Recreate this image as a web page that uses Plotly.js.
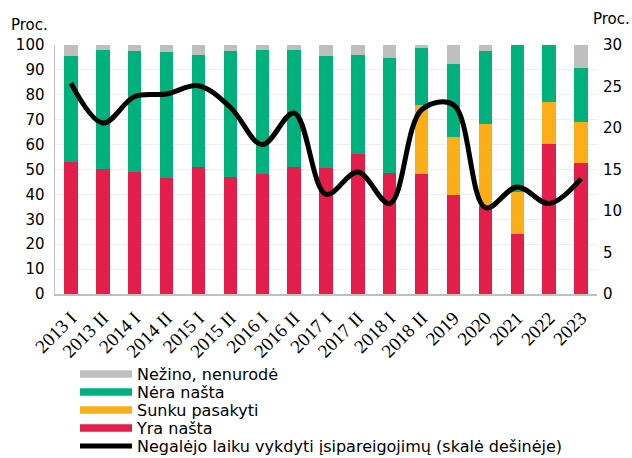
<!DOCTYPE html>
<html><head><meta charset="utf-8">
<script src="https://cdn.plot.ly/plotly-3.0.1.min.js"></script>
<style>html,body{margin:0;padding:0;background:#fff}#c{width:632px;height:458px}</style>
</head><body><div id="c"></div>
<script>
const categories = ["2013 I","2013 II","2014 I","2014 II","2015 I","2015 II","2016 I","2016 II","2017 I","2017 II","2018 I","2018 II","2019","2020","2021","2022","2023"];
const yraNasta   = [53.2,50.4,48.9,46.4,51.0,47.0,48.3,51.1,50.5,56.1,48.4,48.2,39.9,35.3,24.2,60.3,52.8];
const sunku      = [0,0,0,0,0,0,0,0,0,0,0,27.8,23.1,33.0,16.9,17.0,16.3];
const neraNasta  = [42.4,47.6,48.7,50.8,45.0,50.7,49.8,46.9,45.2,39.9,46.5,22.9,29.4,29.3,58.9,22.7,21.8];
const nezino     = [4.4,2.0,2.4,2.8,4.0,2.3,1.9,2.0,4.3,4.0,5.1,1.1,7.6,2.4,0,0,9.1];
const negalejo   = [25.4,20.6,23.8,24.1,25.1,22.5,18.0,21.8,12.0,14.7,10.9,22.2,22.8,10.4,12.9,10.9,13.9];

const names = ["Yra našta","Sunku pasakyti","Nėra našta","Nežino, nenurodė","Negalėjo laiku vykdyti įsipareigojimų (skalė dešinėje)"];
const colors = ["#E31E4A","#FBAE17","#00B07D","#BFBFBF","#000000"];
const series = [yraNasta, sunku, neraNasta, nezino];

const font = {family: "DejaVu Sans, Verdana, sans-serif", size: 15, color: "#000"};
const legFont = {family: "DejaVu Sans, Verdana, sans-serif", size: 16, color: "#000"};
const serif = {family: "Liberation Serif, Times New Roman, serif", size: 19, color: "#000"};
const traces = [];
series.forEach((s,i)=>{
  traces.push({type:"bar", x:categories, y:s, name:names[i], marker:{color:colors[i]}, showlegend:false, hoverinfo:"y+name"});
});
traces.push({type:"scatter", mode:"lines", x:categories, y:negalejo, yaxis:"y2", name:names[4],
  line:{color:"#000", width:5, shape:"spline", smoothing:1}, showlegend:false});

// legend-only swatches, one small legend per item for exact spacing
const legendOrder = [3,2,1,0,4];
const legendY = [374,392,410,428,446];
const layoutLegends = {};
legendOrder.forEach((i,k)=>{
  const lid = k===0 ? "legend" : "legend"+(k+1);
  traces.push({type:"scatter", mode:"lines", x:[null], y:[null], yaxis: i===4 ? "y2":"y", name:names[i],
    line:{color:colors[i], width: i===4 ? 5 : 7.5}, legend:lid, showlegend:true, hoverinfo:"skip"});
  layoutLegends[lid] = {xref:"paper", yref:"paper", x:(75-55)/542, y:(294-legendY[k])/249,
    xanchor:"left", yanchor:"middle", itemwidth:52, font:legFont, bgcolor:"rgba(0,0,0,0)", borderwidth:0};
});

const layout = Object.assign({
  width:632, height:458,
  margin:{l:55, r:35, t:45, b:164, autoexpand:false},
  barmode:"stack", bargap:0.58,
  font: font,
  paper_bgcolor:"#fff", plot_bgcolor:"#fff",
  xaxis:{type:"category", tickangle:-45, showline:true, linecolor:"#BFBFBF", linewidth:1.5, ticks:"", tickfont:serif, automargin:false, ticklabelstandoff:4},
  yaxis:{range:[0,100], dtick:10, showgrid:true, gridcolor:"#EEEEEE", showline:true, linecolor:"#BFBFBF", linewidth:1.5, ticks:"", tickfont:font, zeroline:false, automargin:false, ticklabelstandoff:6},
  yaxis2:{range:[0,30], dtick:5, overlaying:"y", side:"right", showgrid:false, ticks:"", tickfont:font, zeroline:false, showline:false, automargin:false, ticklabelstandoff:5},
  annotations:[
    {xref:"paper", yref:"paper", x:(9-55)/542, y:(294-25)/249, xanchor:"left", yanchor:"middle", text:"Proc.", showarrow:false, font:font},
    {xref:"paper", yref:"paper", x:(632-55)/542, y:(294-19)/249, xanchor:"right", yanchor:"middle", text:"Proc.", showarrow:false, font:font}
  ]
}, layoutLegends);
Plotly.newPlot("c", traces, layout, {displayModeBar:false, staticPlot:true});
</script></body></html>
